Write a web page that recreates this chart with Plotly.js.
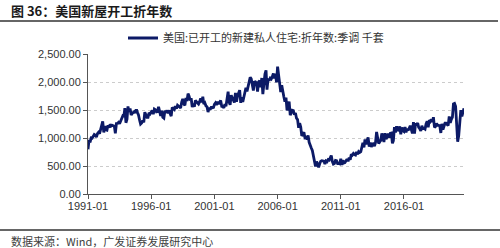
<!DOCTYPE html>
<html>
<head>
<meta charset="utf-8">
<script src="https://cdn.plot.ly/plotly-3.0.1.min.js"></script>
<style>html,body{margin:0;padding:0;background:#fff;}#chart{width:500px;height:248px;}</style>
</head>
<body>
<div id="chart"></div>
<script>
const startYear = 1991;
const seriesName = "美国:已开工的新建私人住宅:折年数:季调 千套";
const housingStarts = [
  798, 965, 921, 1001, 996, 1036, 1063, 1049, 1015, 1079, 1103, 1079,
  1176, 1250, 1297, 1099, 1214, 1145, 1139, 1226, 1186, 1244, 1214, 1227,
  1210, 1210, 1083, 1258, 1260, 1280, 1254, 1300, 1343, 1392, 1376, 1533,
  1272, 1337, 1564, 1465, 1526, 1409, 1439, 1450, 1474, 1450, 1511, 1455,
  1407, 1316, 1249, 1267, 1314, 1281, 1461, 1416, 1369, 1369, 1452, 1431,
  1467, 1491, 1424, 1516, 1504, 1467, 1472, 1557, 1475, 1392, 1489, 1370,
  1355, 1486, 1457, 1492, 1442, 1494, 1437, 1390, 1546, 1520, 1510, 1566,
  1525, 1584, 1567, 1540, 1536, 1641, 1698, 1614, 1582, 1715, 1660, 1792,
  1748, 1670, 1710, 1553, 1611, 1559, 1669, 1648, 1635, 1608, 1648, 1708,
  1636, 1737, 1604, 1626, 1575, 1559, 1463, 1541, 1507, 1549, 1551, 1532,
  1600, 1625, 1590, 1649, 1605, 1636, 1670, 1567, 1562, 1540, 1602, 1568,
  1698, 1829, 1642, 1592, 1764, 1717, 1655, 1633, 1804, 1648, 1753, 1788,
  1853, 1629, 1726, 1643, 1751, 1867, 1897, 1833, 1939, 1967, 2083, 2057,
  1911, 1846, 1998, 2003, 1981, 1828, 2002, 2024, 1905, 2072, 1782, 2042,
  2144, 2207, 1864, 2061, 2025, 2068, 2054, 2095, 2151, 2065, 2147, 1994,
  2273, 2119, 1969, 1821, 1942, 1802, 1737, 1650, 1720, 1491, 1570, 1649,
  1409, 1480, 1495, 1490, 1415, 1448, 1354, 1330, 1183, 1264, 1197, 1037,
  1084, 1103, 1005, 1013, 973, 1046, 923, 844, 820, 777, 652, 560,
  490, 582, 505, 478, 540, 585, 594, 586, 585, 534, 589, 576,
  614, 604, 636, 687, 583, 536, 546, 599, 594, 543, 545, 539,
  630, 517, 600, 554, 561, 608, 623, 585, 650, 610, 711, 694,
  723, 704, 695, 753, 708, 757, 740, 754, 847, 915, 833, 976,
  888, 962, 1010, 847, 918, 840, 894, 898, 855, 918, 1108, 1004,
  900, 932, 957, 1083, 1001, 928, 1087, 981, 1016, 1078, 1005, 1082,
  1087, 904, 953, 1196, 1099, 1208, 1128, 1153, 1208, 1066, 1190, 1131,
  1116, 1196, 1102, 1166, 1134, 1191, 1219, 1151, 1082, 1283, 1079, 1261,
  1228, 1269, 1189, 1168, 1124, 1218, 1171, 1174, 1160, 1252, 1300, 1190,
  1318, 1295, 1331, 1286, 1371, 1188, 1205, 1259, 1225, 1224, 1217, 1090,
  1253, 1149, 1193, 1264, 1264, 1237, 1221, 1384, 1270, 1334, 1373, 1608,
  1617, 1567, 1269, 934, 1038, 1273, 1497, 1388, 1459, 1530
];
const tickDates = ["1991-01-01", "1996-01-01", "2001-01-01", "2006-01-01", "2011-01-01", "2016-01-01"];
const tickLabels = ["1991-01", "1996-01", "2001-01", "2006-01", "2011-01", "2016-01"];
const yTicks = [0, 500, 1000, 1500, 2000, 2500];

const months = housingStarts.map((_, i) => {
  const y = startYear + Math.floor(i / 12);
  const m = (i % 12) + 1;
  return y + "-" + String(m).padStart(2, "0") + "-01";
});

const cjk = '"Noto Sans CJK SC", "Liberation Sans", sans-serif';
const latin = '"Liberation Sans", Arial, sans-serif';

const trace = {
  x: months, y: housingStarts, type: "scatter", mode: "lines",
  name: seriesName,
  line: {color: "#0c1a66", width: 2.8},
  hoverinfo: "skip"
};

// plot area: x 88..464, y 54..194
const L = 88, R = 464, T = 54, B = 194;
const px = v => (v - L) / (R - L);
const py = v => (B - v) / (B - T);

const layout = {
  width: 500, height: 248,
  margin: {l: L, r: 500 - R, t: T, b: 248 - B, pad: 0},
  paper_bgcolor: "#fff", plot_bgcolor: "#fff",
  font: {family: latin, size: 11, color: "#333"},
  showlegend: true,
  legend: {
    orientation: "h", x: px(123), xanchor: "left", y: py(38), yanchor: "middle",
    font: {family: cjk, size: 11, color: "#333"}, bgcolor: "rgba(0,0,0,0)"
  },
  xaxis: {
    type: "date", range: [months[0], months[months.length - 1]],
    tickvals: tickDates, ticktext: tickLabels,
    showgrid: false, zeroline: false,
    showline: true, linecolor: "#555", linewidth: 1,
    ticks: "outside", ticklen: 4, tickcolor: "#555",
    ticklabelstandoff: -2,
    tickfont: {family: latin, size: 11, color: "#333"}
  },
  yaxis: {
    range: [0, 2500], tickvals: yTicks, tickformat: ",.2f",
    showgrid: true, gridcolor: "#cccccc", griddash: "dot", gridwidth: 1,
    zeroline: false, showline: true, linecolor: "#555", linewidth: 1,
    ticks: "outside", ticklen: 4, tickcolor: "#555",
    tickfont: {family: latin, size: 11, color: "#333"}
  },
  shapes: [
    {type: "line", xref: "paper", yref: "paper", x0: px(0), x1: px(498), y0: py(21), y1: py(21),
     line: {color: "#333", width: 1.5}},
    {type: "line", xref: "paper", yref: "paper", x0: px(0), x1: px(500), y0: py(230), y1: py(230),
     line: {color: "#333", width: 1.5}}
  ],
  annotations: [
    {xref: "paper", yref: "paper", x: px(9), y: py(10), xanchor: "left", yanchor: "middle",
     text: "<b>图 36：美国新屋开工折年数</b>", showarrow: false,
     font: {family: cjk, size: 13, color: "#1a1a1a"}},
    {xref: "paper", yref: "paper", x: px(9), y: py(241), xanchor: "left", yanchor: "middle",
     text: "数据来源：Wind，广发证券发展研究中心", showarrow: false,
     font: {family: cjk, size: 11, color: "#404040"}}
  ]
};

Plotly.newPlot("chart", [trace], layout, {staticPlot: true, displayModeBar: false});
</script>
</body>
</html>
